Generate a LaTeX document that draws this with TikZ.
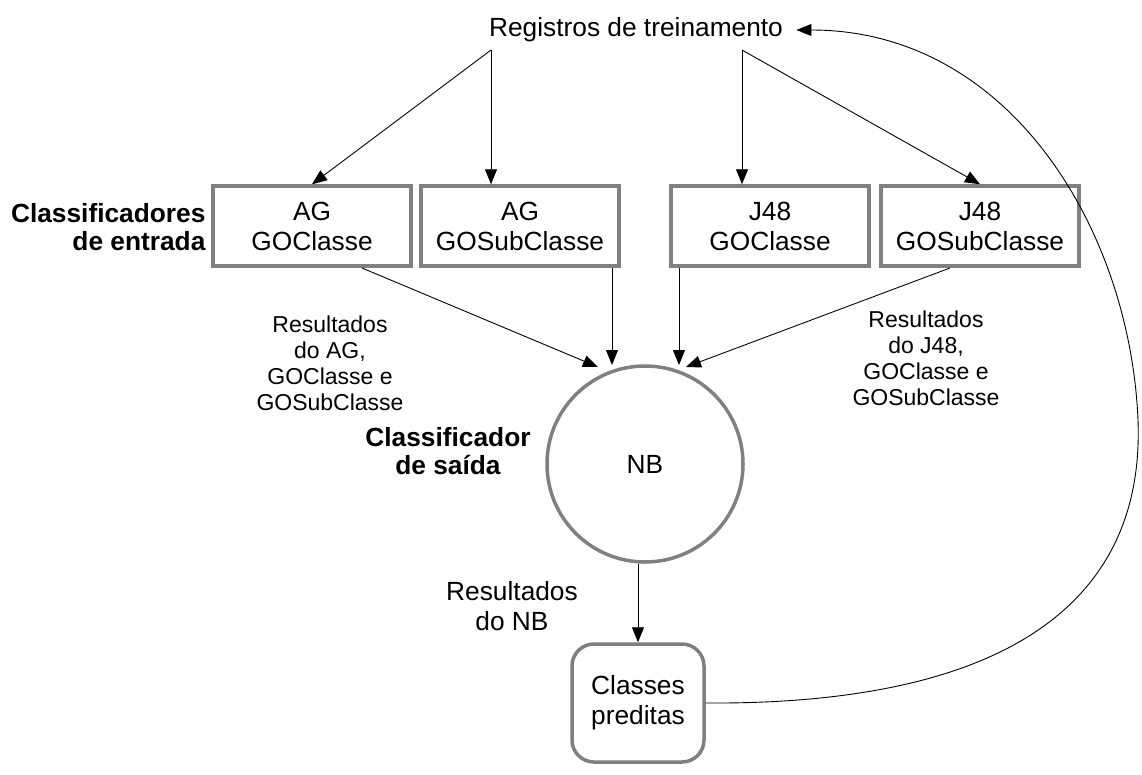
\documentclass[tikz,border=0pt]{standalone}
\usepackage{fontspec}
\setmainfont{Liberation Sans}
\usetikzlibrary{arrows.meta}
\begin{document}
\begin{tikzpicture}[x=1pt,y=-1pt,
  every node/.style={font=\fontsize{26.3}{30}\selectfont, align=center},
  clsbox/.style={draw=black!50, line width=3.5pt, minimum width=198pt, minimum height=80pt, inner sep=0pt},
  lbl/.style={font=\fontsize{23}{26}\selectfont},
  side/.style={font=\fontsize{26.3}{28}\selectfont\bfseries},
  arr/.style={-{Triangle[length=15pt,width=12pt]}, line width=0.9pt}
]
\useasboundingbox (0,0) rectangle (1142,774);

% training data source
\node (reg) at (636,30) {Registros de treinamento};
\coordinate (regL) at (491,50);
\coordinate (regR) at (742,50);

% input classifiers
\node[clsbox] (ag1) at (312,226) {AG\\GOClasse};
\node[clsbox] (ag2) at (520,226) {AG\\GOSubClasse};
\node[clsbox] (j1)  at (770,226) {J48\\GOClasse};
\node[clsbox] (j2)  at (980,226) {J48\\GOSubClasse};
\node[side, align=right, anchor=east] (ent) at (209,227) {Classificadores\\de entrada};

% output classifier
\node[draw=black!50, line width=3.5pt, circle, minimum size=196pt, inner sep=0pt] (nb) at (645,464) {NB};
\node[side] (sai) at (448,451) {Classificador\\de saída};

% predicted classes
\node[draw=black!50, line width=3.5pt, rounded corners=22pt, minimum width=132pt, minimum height=118pt] (pred) at (638,703) {Classes\\preditas};

% edge labels
\node[lbl] (resAG) at (330,363) {Resultados\\do AG,\\GOClasse e\\GOSubClasse};
\node[lbl] (resJ)  at (926,358) {Resultados\\do J48,\\GOClasse e\\GOSubClasse};
\node (resNB) at (512,606) {Resultados\\do NB};

% connectors
\draw[arr] (regL) -- (ag1.north);
\draw[arr] (regL) -- (regL |- ag2.north);
\draw[arr] (regR) -- (regR |- j1.north);
\draw[arr] (regR) -- (j2.north);

\coordinate (a1) at (362,268);
\coordinate (a2) at (612,268);
\coordinate (a3) at (679,268);
\coordinate (a4) at (950,268);
\draw[arr] (a1) -- (598,367);
\draw[arr] (a2) -- (612,365);
\draw[arr] (a3) -- (679,365);
\draw[arr] (a4) -- (686,367);

\draw[arr] (nb.south -| pred.north) -- (pred.north);

\draw[arr] (pred.east) .. controls (1010,705) and (1145,600) .. (1138,420)
  .. controls (1130,230) and (1010,30) .. ([xshift=10pt]reg.east);
\end{tikzpicture}
\end{document}
